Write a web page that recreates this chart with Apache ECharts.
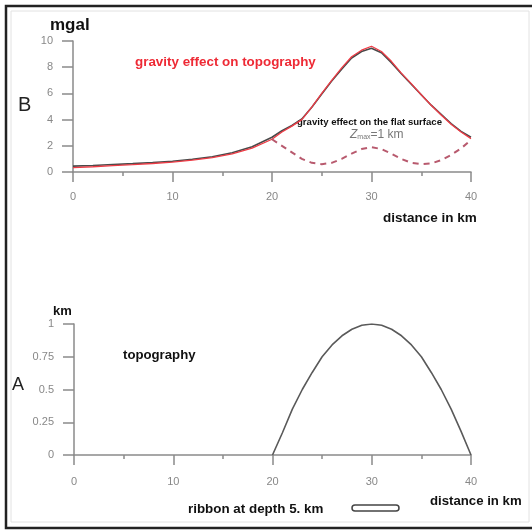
<!DOCTYPE html>
<html><head><meta charset="utf-8">
<script src="https://cdn.jsdelivr.net/npm/echarts@6/dist/echarts.min.js"></script>
<style>html,body{margin:0;padding:0;background:#fff}#c{width:532px;height:531px}</style>
</head><body><div id="c"></div>
<script>
// distance (km)
const distance = [0,2,4,6,8,10,12,14,16,18,20,21,22,23,24,25,26,27,28,29,30,31,32,33,34,35,36,37,38,39,40];
// gravity effect on topography (mgal), two model curves
const gravityDark = [0.45,0.5,0.57,0.64,0.72,0.82,0.97,1.17,1.47,1.93,2.65,3.15,3.55,4.05,4.95,5.95,6.95,7.85,8.7,9.2,9.45,9.1,8.35,7.5,6.7,5.9,5.1,4.4,3.7,3.1,2.65];
const gravityRed  = [0.33,0.4,0.48,0.56,0.65,0.76,0.9,1.1,1.38,1.82,2.5,3.05,3.5,4.0,4.95,6.0,7.0,7.95,8.8,9.3,9.6,9.2,8.45,7.55,6.75,5.9,5.1,4.35,3.65,3.05,2.55];
// gravity effect on the flat surface (dashed), 20..40 km
const flatDistance = [20,21,22,23,24,25,26,27,28,29,30,31,32,33,34,35,36,37,38,39,40];
const flatGravity = [2.5,2.0,1.5,1.0,0.7,0.6,0.7,1.0,1.4,1.75,1.9,1.75,1.4,1.0,0.7,0.6,0.65,0.9,1.3,1.8,2.45];
// topography (km), 20..40 km
const topoDistance = [20,21,22,23,24,25,26,27,28,29,30,31,32,33,34,35,36,37,38,39,40];
const topography = [0,0.17,0.35,0.5,0.63,0.75,0.84,0.91,0.96,0.99,1.0,0.99,0.96,0.91,0.84,0.75,0.63,0.5,0.35,0.18,0];
// ticks
const xTicks = {min:0, max:40, interval:10};
const gTicks = {min:0, max:10, interval:2};
const tTicks = {min:0, max:1, interval:0.25};

const pairs = (xs, ys) => xs.map((x, i) => [x, ys[i]]);
const FONT = "'Liberation Sans', Arial, sans-serif";
const axisGray = '#8a8a8a';

function xAxisCfg(gridIndex, margin) {
  return {
    type:'value', gridIndex, min:xTicks.min, max:xTicks.max, interval:xTicks.interval,
    axisLine:{show:true, onZero:false, lineStyle:{color:axisGray, width:1.5}},
    axisTick:{show:true, length:10, lineStyle:{color:axisGray, width:1.5}},
    minorTick:{show:true, splitNumber:2, length:4, lineStyle:{color:axisGray, width:1.5}},
    splitLine:{show:false},
    axisLabel:{color:'#888', fontSize:11, fontFamily:FONT, margin}
  };
}
function yAxisCfg(gridIndex, t) {
  return {
    type:'value', gridIndex, min:t.min, max:t.max, interval:t.interval,
    axisLine:{show:true, onZero:false, lineStyle:{color:axisGray, width:1.5}},
    axisTick:{show:true, length:11, lineStyle:{color:axisGray, width:1.5}},
    splitLine:{show:false},
    axisLabel:{color:'#888', fontSize:11, fontFamily:FONT, margin:20}
  };
}
function txt(x, y, text, font, fill, align) {
  return {type:'text', x, y, silent:true,
    style:{text, font, fill, align: align || 'left', verticalAlign:'middle'}};
}

const chart = echarts.init(document.getElementById('c'), null, {renderer:'canvas'});
chart.setOption({
  animation:false,
  backgroundColor:'#fff',
  grid:[
    {left:73, top:41, width:398, height:131},
    {left:74, top:324, width:397, height:131}
  ],
  xAxis:[xAxisCfg(0, 19), xAxisCfg(1, 21)],
  yAxis:[yAxisCfg(0, gTicks), yAxisCfg(1, tTicks)],
  series:[
    {type:'line', xAxisIndex:0, yAxisIndex:0, data:pairs(distance, gravityDark), showSymbol:false,
      lineStyle:{color:'#4a4a4a', width:1.6}},
    {type:'line', xAxisIndex:0, yAxisIndex:0, data:pairs(distance, gravityRed), showSymbol:false,
      lineStyle:{color:'#ee3b45', width:1.3}},
    {type:'line', xAxisIndex:0, yAxisIndex:0, data:pairs(flatDistance, flatGravity), showSymbol:false,
      lineStyle:{color:'#b85a6e', width:2, type:[6,5]}},
    {type:'line', xAxisIndex:1, yAxisIndex:1, data:pairs(topoDistance, topography), showSymbol:false,
      lineStyle:{color:'#5a5a5a', width:1.6}}
  ],
  graphic:[
    {type:'rect', silent:true, shape:{x:6, y:6, width:540, height:522},
      style:{fill:'none', stroke:'#222', lineWidth:2.5}},
    {type:'rect', silent:true, shape:{x:11, y:11, width:518, height:511},
      style:{fill:'none', stroke:'#e2e2e2', lineWidth:1}},
    txt(50, 25, 'mgal', 'bold 17px ' + FONT, '#111'),
    txt(18, 105, 'B', '20px ' + FONT, '#222'),
    txt(135, 62, 'gravity effect on topography', 'bold 13.4px ' + FONT, '#ee2a35'),
    txt(297, 122, 'gravity effect on the flat surface', 'bold 9.6px ' + FONT, '#111'),
    {type:'text', x:350, y:135, silent:true,
      style:{text:'{z|Z}{s|max}{n|=1 km}', fill:'#777', align:'left', verticalAlign:'middle',
        rich:{
          z:{fontSize:12, fontFamily:FONT, fill:'#777', fontStyle:'italic'},
          s:{fontSize:7, fontFamily:FONT, fill:'#777', verticalAlign:'bottom', padding:[4,0,0,0]},
          n:{fontSize:12, fontFamily:FONT, fill:'#777'}
        }}},
    txt(383, 218, 'distance in km', 'bold 13.5px ' + FONT, '#111'),
    txt(53, 311, 'km', 'bold 13px ' + FONT, '#111'),
    txt(12, 385, 'A', '18px ' + FONT, '#222'),
    txt(123, 355, 'topography', 'bold 13.2px ' + FONT, '#111'),
    txt(430, 501, 'distance in km', 'bold 13.2px ' + FONT, '#111'),
    txt(188, 509, 'ribbon at depth 5. km', 'bold 13.4px ' + FONT, '#111'),
    {type:'rect', silent:true, shape:{x:352, y:505, width:47, height:6, r:3},
      style:{fill:'#fff', stroke:'#444', lineWidth:1.5}}
  ]
});
</script>
</body></html>
